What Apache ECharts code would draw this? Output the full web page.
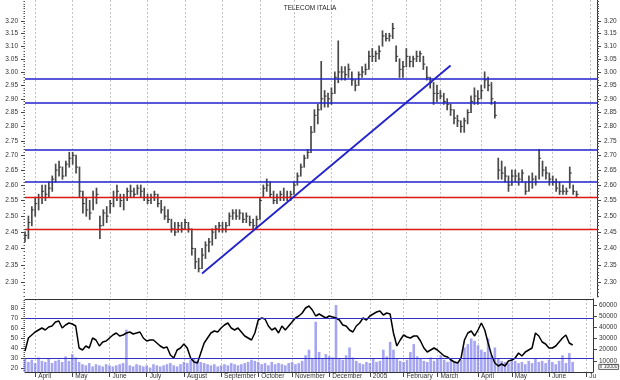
<!DOCTYPE html>
<html><head><meta charset="utf-8">
<script src="https://cdn.jsdelivr.net/npm/echarts@6/dist/echarts.min.js"></script>
<style>html,body{margin:0;padding:0;background:#fff}#c{width:620px;height:380px}</style>
</head><body><div id="c"></div>
<script>
const chartTitle = 'TELECOM ITALIA';
const volumeUnitLabel = 'x 10000';
const firstDay = [2004, 2, 24];      // 24 March 2004, one category every 2 trading days
const categoryCount = 169;
const monthLabels = ['April','May','June','July','August','September','October','November','December','2005','February','March','April','May','June','Ju'];
const priceTicks = [2.30,2.35,2.40,2.45,2.50,2.55,2.60,2.65,2.70,2.75,2.80,2.85,2.90,2.95,3.00,3.05,3.10,3.15,3.20];
const priceRange = [2.257, 3.286];
const blueLevels = [2.985, 2.88, 2.71, 2.605];
const redLevels = [2.56, 2.46];
const trendStart = [52, 2.325];
const trendEnd = [125, 3.025];
const rsiTicks = [20,30,40,50,60,70,80];
const rsiRange = [16, 89];
const rsiLevels = [70, 30];
const volumeTicks = [10000,20000,30000,40000,50000,60000];
const volumeRange = [0, 65400];

const high = [
2.45,2.50,2.53,2.56,2.57,2.60,2.60,2.61,2.63,2.67,
2.68,2.66,2.68,2.71,2.71,2.70,2.66,2.58,2.56,2.55,
2.58,2.59,2.50,2.52,2.53,2.55,2.58,2.60,2.57,2.57,
2.59,2.60,2.59,2.60,2.60,2.59,2.57,2.57,2.58,2.57,
2.55,2.53,2.52,2.49,2.48,2.48,2.48,2.49,2.48,2.46,
2.40,2.37,2.40,2.42,2.43,2.46,2.47,2.48,2.48,2.48,
2.51,2.52,2.52,2.52,2.51,2.51,2.50,2.49,2.50,2.56,
2.60,2.62,2.61,2.58,2.57,2.58,2.59,2.58,2.58,2.61,
2.64,2.67,2.70,2.72,2.80,2.86,2.88,3.04,2.93,2.92,
2.94,3.00,3.12,3.02,3.02,3.03,3.00,2.97,3.00,3.02,
3.03,3.08,3.09,3.08,3.10,3.16,3.15,3.15,3.19,3.10,
3.05,3.04,3.09,3.06,3.06,3.08,3.08,3.06,3.02,2.98,
2.96,2.95,2.93,2.92,2.90,2.88,2.86,2.84,2.82,2.83,
2.86,2.91,2.94,2.93,2.95,3.00,2.98,2.96,2.89,2.69,
2.68,2.66,2.63,2.65,2.65,2.64,2.65,2.61,2.63,2.64,
2.63,2.72,2.68,2.66,2.64,2.63,2.62,2.61,2.60,2.59,
2.66,2.60,2.58];
const low = [
2.42,2.43,2.47,2.50,2.52,2.54,2.55,2.56,2.58,2.61,
2.63,2.62,2.63,2.66,2.67,2.64,2.56,2.51,2.50,2.49,
2.52,2.54,2.43,2.47,2.48,2.51,2.53,2.55,2.53,2.52,
2.55,2.56,2.56,2.57,2.56,2.55,2.54,2.54,2.55,2.53,
2.51,2.49,2.48,2.45,2.44,2.45,2.45,2.46,2.45,2.38,
2.34,2.33,2.34,2.37,2.39,2.41,2.43,2.45,2.45,2.45,
2.47,2.49,2.49,2.49,2.48,2.48,2.47,2.46,2.46,2.49,
2.56,2.58,2.56,2.54,2.54,2.55,2.55,2.55,2.55,2.57,
2.60,2.63,2.66,2.69,2.71,2.78,2.81,2.86,2.87,2.87,
2.88,2.92,2.96,2.97,2.97,2.98,2.95,2.93,2.95,2.98,
2.99,3.01,3.04,3.04,3.05,3.10,3.12,3.12,3.13,3.04,
2.98,2.98,3.02,3.02,3.02,3.04,3.04,3.01,2.97,2.94,
2.88,2.89,2.90,2.88,2.86,2.84,2.81,2.80,2.78,2.78,
2.81,2.85,2.88,2.88,2.90,2.94,2.93,2.88,2.83,2.62,
2.62,2.61,2.58,2.60,2.61,2.60,2.61,2.57,2.58,2.59,
2.60,2.62,2.63,2.62,2.60,2.60,2.58,2.57,2.57,2.57,
2.59,2.57,2.56];
const close = [
2.44,2.48,2.52,2.54,2.56,2.58,2.57,2.59,2.62,2.65,
2.66,2.63,2.67,2.69,2.70,2.66,2.58,2.54,2.52,2.51,
2.56,2.57,2.47,2.51,2.50,2.54,2.56,2.58,2.55,2.56,
2.58,2.58,2.57,2.59,2.58,2.56,2.55,2.56,2.57,2.54,
2.52,2.50,2.49,2.46,2.45,2.47,2.46,2.48,2.46,2.40,
2.36,2.34,2.38,2.41,2.42,2.45,2.46,2.47,2.46,2.47,
2.50,2.51,2.50,2.51,2.49,2.50,2.48,2.47,2.49,2.55,
2.59,2.60,2.57,2.55,2.56,2.57,2.56,2.56,2.57,2.60,
2.63,2.66,2.69,2.71,2.78,2.84,2.86,2.90,2.91,2.90,
2.92,2.98,3.00,3.00,2.99,3.01,2.97,2.95,2.99,3.00,
3.01,3.06,3.06,3.07,3.08,3.14,3.13,3.14,3.17,3.06,
3.01,3.02,3.06,3.04,3.05,3.06,3.07,3.03,2.98,2.96,
2.92,2.92,2.91,2.89,2.88,2.86,2.83,2.82,2.80,2.82,
2.85,2.89,2.91,2.90,2.93,2.97,2.95,2.90,2.84,2.65,
2.64,2.63,2.60,2.63,2.63,2.62,2.64,2.58,2.61,2.62,
2.61,2.69,2.65,2.64,2.62,2.61,2.59,2.58,2.58,2.58,
2.64,2.58,2.57];
const rsi = [
37,50,53,56,58,60,58,61,62,66,
67,60,63,65,64,62,40,38,42,40,
50,48,42,46,47,50,53,55,52,53,
55,56,54,55,56,50,47,48,48,45,
42,40,41,33,30,38,40,44,40,30,
26,25,35,45,50,55,57,56,60,63,
65,60,58,60,56,52,50,48,55,68,
70,69,62,58,60,55,62,58,62,66,
70,72,75,80,82,78,72,74,72,70,
72,71,70,68,63,62,58,56,62,65,
70,68,72,74,76,77,73,75,74,55,
42,48,53,51,50,52,52,47,40,36,
38,40,38,35,32,31,28,26,25,30,
48,55,57,52,58,65,58,45,33,25,
22,24,22,27,28,30,35,32,36,38,
40,55,52,46,44,40,40,42,46,50,
53,45,43];
const volume = [
12000,9000,11000,8000,13000,10000,9000,12000,8000,10000,11000,9000,14000,10000,16000,13000,
9000,7000,6000,8000,5000,7000,6000,5000,7000,6000,5000,6000,7000,8000,38000,
6000,5000,7000,6000,5000,6000,4000,7000,6000,5000,6000,7000,8000,6000,5000,7000,
9000,8000,11000,12000,10000,9000,8000,7000,
6000,7000,5000,6000,7000,6000,8000,7000,6000,7000,8000,
9000,11000,10000,9000,
7000,8000,6000,9000,7000,8000,7000,6000,8000,9000,7000,8000,10000,
15000,20000,12000,45000,18000,12000,16000,14000,
13000,60000,12000,11000,15000,22000,13000,10000,
8000,7000,9000,8000,12000,9000,10000,
20000,14000,27000,
20000,12000,10000,9000,11000,
18000,25000,14000,12000,10000,
9000,13000,10000,12000,15000,11000,9000,12000,10000,8000,11000,
22000,25000,30000,28000,24000,20000,18000,30000,
15000,22000,12000,10000,9000,8000,11000,10000,
8000,9000,7000,10000,8000,12000,9000,10000,8000,11000,9000,7000,10000,15000,8000,17000,9000];

// ---- categories (every second weekday) ----
const dates = [];
{
  const t = new Date(Date.UTC(firstDay[0], firstDay[1], firstDay[2]));
  let n = 0;
  while (dates.length < categoryCount) {
    const wd = t.getUTCDay();
    if (wd !== 0 && wd !== 6) { if (n % 2 === 0) dates.push(t.toISOString().slice(0, 10)); n++; }
    t.setUTCDate(t.getUTCDate() + 1);
  }
}
const monthStart = {};
{ let k = 0;
  for (let i = 1; i < dates.length; i++) if (dates[i].slice(0, 7) !== dates[i - 1].slice(0, 7)) monthStart[i] = monthLabels[k++];
}
const isMonth = (i) => monthStart[i] !== undefined;

const L = Math.log;
const lnTicks = priceTicks.map(L);
const minorPrice = [];
for (let c = 226; c <= 328; c++) minorPrice.push(L(c / 100));
const minorRsi = [];
for (let v = 18; v <= 88; v += 2) minorRsi.push(v);

const FONT = 'Liberation Sans';
const lab = { fontSize: 6.5, color: '#333', fontFamily: FONT };
const tickStyle = { color: '#444', width: 1 };
const dashed = { show: true, lineStyle: { color: '#c4c4c4', type: [2, 2], width: 1 } };

const priceData = high.map((h, i) => [i, L(h), L(low[i]), L(close[i])]);

const option = {
  animation: false,
  backgroundColor: '#fff',
  title: { text: chartTitle, left: 'center', top: 0, textStyle: { fontSize: 6.5, fontWeight: 'normal', color: '#222', fontFamily: FONT } },
  grid: [
    { left: 25, right: 23, top: 0, height: 297 },
    { left: 25, right: 23, top: 299, height: 73 }
  ],
  xAxis: [
    { gridIndex: 0, type: 'category', data: dates, boundaryGap: false,
      axisLine: { show: false }, axisTick: { show: false }, axisLabel: { show: false },
      splitLine: Object.assign({ interval: (i) => isMonth(i) }, dashed) },
    { gridIndex: 1, type: 'category', data: dates, boundaryGap: false, position: 'bottom',
      axisLine: { show: true, lineStyle: { color: '#333', width: 1 } },
      axisTick: { show: true, interval: (i) => isMonth(i), length: 5, lineStyle: tickStyle },
      axisLabel: Object.assign({ interval: (i) => isMonth(i), formatter: (v, i) => monthStart[i] || '', align: 'left', margin: 1, padding: [0, 0, 0, 3] }, lab),
      splitLine: Object.assign({ interval: (i) => isMonth(i) }, dashed) },
    { gridIndex: 1, type: 'category', data: dates, boundaryGap: false, position: 'top',
      axisLine: { show: true, lineStyle: { color: '#333', width: 1 } },
      axisTick: { show: false }, axisLabel: { show: false }, splitLine: { show: false } }
  ],
  yAxis: [
    { gridIndex: 0, type: 'value', position: 'left', min: L(priceRange[0]), max: L(priceRange[1]),
      axisLine: { show: false }, splitLine: { show: false },
      axisTick: { show: true, length: 4, customValues: lnTicks, lineStyle: tickStyle },
      axisLabel: Object.assign({ customValues: lnTicks, formatter: (v) => Math.exp(v).toFixed(2), margin: 7 }, lab) },
    { gridIndex: 0, type: 'value', position: 'left', min: L(priceRange[0]), max: L(priceRange[1]),
      axisLine: { show: false }, splitLine: { show: false }, axisLabel: { show: false },
      axisTick: { show: true, length: 1.5, customValues: minorPrice, lineStyle: { color: '#555' } } },
    { gridIndex: 0, type: 'value', position: 'right', min: L(priceRange[0]), max: L(priceRange[1]),
      axisLine: { show: true, lineStyle: { color: '#333' } }, splitLine: { show: false },
      axisTick: { show: true, length: 4, customValues: lnTicks, lineStyle: tickStyle },
      axisLabel: Object.assign({ customValues: lnTicks, formatter: (v) => Math.exp(v).toFixed(2), margin: 7 }, lab) },
    { gridIndex: 0, type: 'value', position: 'right', min: L(priceRange[0]), max: L(priceRange[1]),
      axisLine: { show: false }, splitLine: { show: false }, axisLabel: { show: false },
      axisTick: { show: true, length: 2, customValues: minorPrice, lineStyle: { color: '#555' } } },
    { gridIndex: 1, type: 'value', position: 'left', min: rsiRange[0], max: rsiRange[1],
      axisLine: { show: false }, splitLine: { show: false },
      axisTick: { show: true, length: 4, customValues: rsiTicks, lineStyle: tickStyle },
      axisLabel: Object.assign({ customValues: rsiTicks, margin: 7 }, lab) },
    { gridIndex: 1, type: 'value', position: 'left', min: rsiRange[0], max: rsiRange[1],
      axisLine: { show: false }, splitLine: { show: false }, axisLabel: { show: false },
      axisTick: { show: true, length: 1.5, customValues: minorRsi, lineStyle: { color: '#555' } } },
    { gridIndex: 1, type: 'value', position: 'right', min: volumeRange[0], max: volumeRange[1],
      axisLine: { show: true, lineStyle: { color: '#333' } }, splitLine: { show: false },
      axisTick: { show: true, length: 4, customValues: volumeTicks, lineStyle: tickStyle },
      axisLabel: Object.assign({ customValues: volumeTicks, formatter: (v) => String(Math.round(v)), margin: 6 }, lab) }
  ],
  series: [
    { type: 'custom', xAxisIndex: 0, yAxisIndex: 0, data: priceData, encode: { x: 0, y: [1, 2, 3] },
      renderItem: (params, api) => {
        const i = api.value(0);
        const pH = api.coord([i, api.value(1)]);
        const pL = api.coord([i, api.value(2)]);
        const pC = api.coord([i, api.value(3)]);
        return { type: 'group', children: [
          { type: 'line', shape: { x1: pH[0], y1: pH[1] - 0.5, x2: pL[0], y2: pL[1] + 0.5 }, style: { stroke: '#4a4a4a', lineWidth: 1.7 } },
          { type: 'line', shape: { x1: pC[0], y1: pC[1], x2: pC[0] + 2, y2: pC[1] }, style: { stroke: '#333', lineWidth: 1 } }
        ] };
      },
      markLine: { silent: true, symbol: ['none', 'none'], label: { show: false },
        data: [
          ...blueLevels.map(v => ({ yAxis: L(v), lineStyle: { color: '#2020cc', width: 1.6, type: 'solid' } })),
          ...redLevels.map(v => ({ yAxis: L(v), lineStyle: { color: '#e01515', width: 1.4, type: 'solid' } })),
          [ { coord: [dates[trendStart[0]], L(trendStart[1])], lineStyle: { color: '#2222cc', width: 1.8, type: 'solid' } },
            { coord: [dates[trendEnd[0]], L(trendEnd[1])] } ]
        ] } },
    { type: 'bar', xAxisIndex: 1, yAxisIndex: 6, data: volume, barWidth: 2.6,
      itemStyle: { color: 'rgba(105,105,232,0.6)' } },
    { type: 'line', xAxisIndex: 1, yAxisIndex: 4, data: rsi, showSymbol: false, symbol: 'none',
      lineStyle: { color: '#000', width: 1.5 },
      markLine: { silent: true, symbol: ['none', 'none'], label: { show: false },
        data: rsiLevels.map(v => ({ yAxis: v, lineStyle: { color: '#3030c8', width: 1, type: 'solid' } })) } }
  ],
  graphic: [
    { type: 'text', right: 1, top: 364, silent: true,
      style: { text: volumeUnitLabel, fontSize: 5, fill: '#333', fontFamily: FONT, borderColor: '#333', borderWidth: 0.8, padding: [0, 1, 0, 1] } }
  ]
};
const chart = echarts.init(document.getElementById('c'), null, { renderer: 'canvas' });
chart.setOption(option);
</script></body></html>
